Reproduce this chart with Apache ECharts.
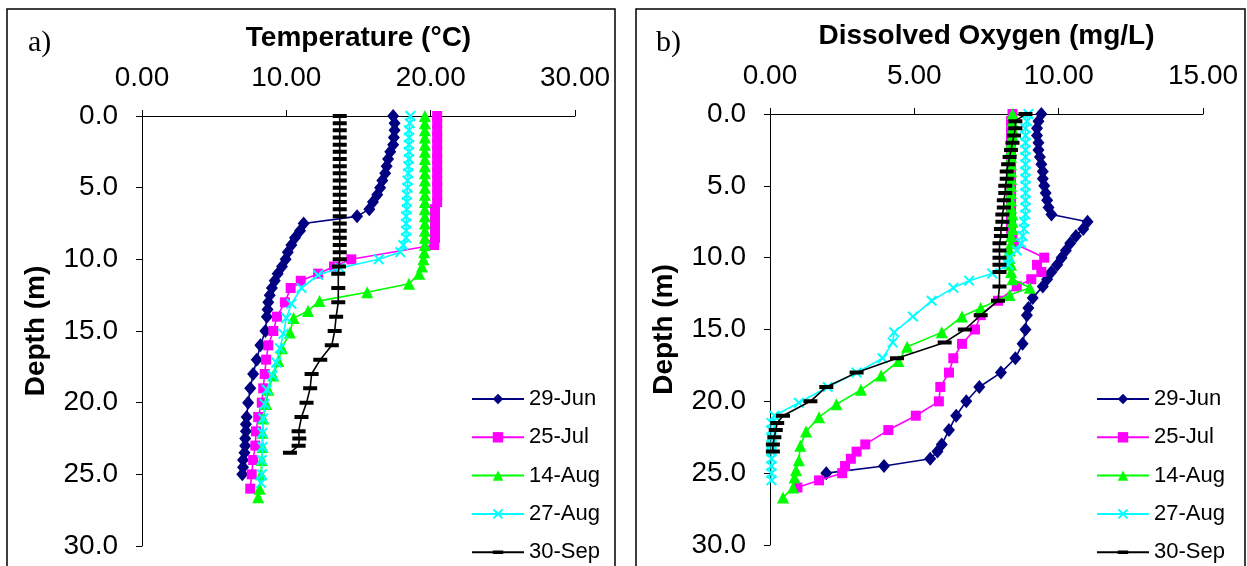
<!DOCTYPE html>
<html><head><meta charset="utf-8">
<script src="https://cdn.jsdelivr.net/npm/echarts@6/dist/echarts.min.js"></script>
<style>html,body{margin:0;padding:0;background:#fff}#c{width:1247px;height:566px}</style>
</head><body><div id="c"></div><script>
// ---------- data ----------
const seriesNames = ['29-Jun', '25-Jul', '14-Aug', '27-Aug', '30-Sep'];
const tempTicks = [0, 10, 20, 30];
const doTicks = [0, 5, 10, 15];
const depthTicks = [0, 5, 10, 15, 20, 25, 30];

// Temperature (°C), depth (m)
const tempJun = [[17.4,0],[17.5,0.5],[17.5,1],[17.45,1.5],[17.4,2],[17.2,2.5],[17.05,3],[16.95,3.5],[16.85,4],[16.65,4.5],[16.5,5],[16.3,5.5],[16.0,6],[15.75,6.5],[14.9,7],[11.2,7.5],[10.95,8],[10.6,8.5],[10.35,9],[10.1,9.5],[9.95,10],[9.7,10.5],[9.4,11],[9.2,11.5],[9.0,12],[8.85,12.5],[8.75,13],[8.7,13.5],[8.65,14],[8.55,15],[8.2,16],[7.95,17],[7.7,18],[7.5,19],[7.35,20],[7.25,21],[7.2,21.5],[7.2,22],[7.15,22.5],[7.15,23],[7.1,23.5],[7.0,24],[7.0,24.5],[6.95,25]];
const tempJul = [[20.45,0],[20.45,0.5],[20.45,1],[20.45,1.5],[20.45,2],[20.45,2.5],[20.45,3],[20.45,3.5],[20.45,4],[20.45,4.5],[20.45,5],[20.45,5.5],[20.45,6],[20.3,6.5],[20.3,7],[20.3,7.5],[20.3,8],[20.3,8.5],[20.25,9],[14.5,10],[13.3,10.5],[12.2,11],[11.0,11.5],[10.3,12],[9.9,13],[9.35,14],[9.1,15],[8.75,16],[8.6,17],[8.5,18],[8.4,19],[8.3,20],[8.05,21],[7.9,22],[7.85,23],[7.7,24],[7.6,25],[7.5,26]];
const tempAug14 = [[19.6,0],[19.6,0.5],[19.6,1],[19.6,1.5],[19.6,2],[19.6,2.5],[19.6,3],[19.6,3.5],[19.6,4],[19.6,4.5],[19.6,5],[19.6,5.5],[19.6,6],[19.6,6.5],[19.6,7],[19.6,7.5],[19.6,8],[19.6,8.5],[19.6,9],[19.55,9.5],[19.5,10],[19.4,10.5],[19.2,11],[18.5,11.7],[15.6,12.3],[12.3,12.9],[11.5,13.6],[10.5,14.1],[10.25,15.1],[9.7,16.2],[9.45,17.1],[9.1,18.1],[8.75,19.1],[8.6,20.1],[8.4,21.1],[8.35,22.1],[8.35,23.1],[8.3,24],[8.25,25],[8.15,26],[8.05,26.6]];
const tempAug27 = [[18.6,0],[18.55,0.5],[18.5,1],[18.5,1.5],[18.5,2],[18.5,2.5],[18.5,3],[18.45,3.5],[18.45,4],[18.4,4.5],[18.4,5],[18.35,5.5],[18.35,6],[18.35,6.5],[18.3,7],[18.3,7.5],[18.3,8],[18.3,8.5],[18.1,9],[17.9,9.5],[16.4,10],[13.7,10.6],[12.2,11.1],[11.05,12],[10.35,13.1],[10.0,14.1],[9.8,15.2],[9.55,16.2],[9.3,17.2],[9.05,18.1],[8.65,19.1],[8.5,20.1],[8.4,21.1],[8.35,22.1],[8.35,23.1],[8.3,24],[8.3,25],[8.25,25.6]];
const tempSep = [[13.7,0],[13.7,0.5],[13.7,1],[13.7,1.5],[13.7,2],[13.7,2.5],[13.7,3],[13.7,3.5],[13.7,4],[13.7,4.5],[13.7,5],[13.7,5.5],[13.7,6],[13.7,6.5],[13.7,7],[13.7,7.5],[13.7,8],[13.7,8.5],[13.7,9],[13.7,9.5],[13.7,10],[13.65,10.5],[13.6,11],[13.6,12],[13.6,13],[13.45,14],[13.35,15],[13.15,16],[12.35,17],[11.75,18],[11.65,19],[11.4,20],[11.05,21],[10.85,22],[10.9,22.5],[10.85,23],[10.25,23.5]];

// Dissolved oxygen (mg/L), depth (m)
const doJun = [[9.4,0],[9.3,0.5],[9.25,1],[9.25,1.5],[9.3,2],[9.3,2.5],[9.35,3],[9.4,3.5],[9.45,4],[9.45,4.5],[9.5,5],[9.55,5.5],[9.6,6],[9.65,6.5],[9.75,7],[11.0,7.5],[10.85,8],[10.6,8.5],[10.4,9],[10.25,9.5],[10.1,10],[9.95,10.5],[9.75,11],[9.6,11.5],[9.45,12],[9.1,12.8],[8.95,13.5],[8.9,14],[8.85,15],[8.75,16],[8.5,17],[8.0,18],[7.25,19],[6.8,20],[6.45,21],[6.2,22],[5.95,23],[5.8,23.5],[5.55,24],[3.95,24.5],[1.95,25]];
const doJul = [[8.4,0],[8.35,0.5],[8.35,1],[8.35,1.5],[8.35,2],[8.35,2.5],[8.35,3],[8.35,3.5],[8.35,4],[8.35,4.5],[8.35,5],[8.35,5.5],[8.35,6],[8.35,6.5],[8.35,7],[8.35,7.5],[8.35,8],[8.4,8.5],[8.45,9],[9.5,10],[9.25,10.5],[9.4,11],[9.05,11.5],[8.55,12],[7.9,13],[7.3,14],[7.1,15],[6.65,16],[6.35,17],[6.2,18],[5.9,19],[5.85,20],[5.05,21],[4.1,22],[3.3,23],[3.0,23.5],[2.8,24],[2.6,24.5],[2.5,25],[1.7,25.5],[0.95,26]];
const doAug14 = [[8.4,0],[8.4,0.5],[8.4,1],[8.4,1.5],[8.35,2],[8.35,2.5],[8.35,3],[8.35,3.5],[8.35,4],[8.35,4.5],[8.35,5],[8.35,5.5],[8.35,6],[8.35,6.5],[8.4,7],[8.4,7.5],[8.4,8],[8.35,8.5],[8.35,9],[8.3,9.5],[8.3,10],[8.35,10.5],[8.35,11],[8.4,11.5],[9.0,12.1],[8.3,12.6],[7.3,13.5],[6.65,14.1],[5.95,15.2],[4.75,16.2],[4.45,17.2],[3.85,18.2],[3.15,19.2],[2.3,20.2],[1.7,21.1],[1.25,22.1],[1.05,23.1],[1.0,24.1],[0.9,24.8],[0.85,25.3],[0.8,26.0],[0.45,26.7]];
const doAug27 = [[8.95,0],[8.9,0.5],[8.85,1],[8.85,1.5],[8.85,2],[8.85,2.5],[8.85,3],[8.85,3.5],[8.85,4],[8.85,4.5],[8.85,5],[8.85,5.5],[8.85,6],[8.85,6.5],[8.85,7],[8.8,7.5],[8.8,8],[8.75,8.5],[8.7,9],[8.55,9.5],[8.3,10],[8.25,10.5],[7.7,11.1],[6.9,11.6],[6.35,12.1],[5.6,13.0],[4.95,14.1],[4.3,15.2],[4.25,15.9],[3.9,17.0],[3.0,18.0],[2.0,19.0],[1.0,20.1],[0.15,21.0],[0.05,21.5],[0.05,22],[0.05,22.5],[0.05,23],[0.05,23.5],[0.05,24],[0.05,24.5],[0.05,25],[0.05,25.5]];
const doSep = [[8.85,0],[8.5,0.5],[8.5,1],[8.45,1.5],[8.4,2],[8.35,2.5],[8.3,3],[8.25,3.5],[8.2,4],[8.2,4.5],[8.15,5],[8.15,5.5],[8.1,6],[8.1,6.5],[8.05,7],[8.05,7.5],[8.0,8],[8.0,8.5],[7.95,9],[7.95,9.5],[7.95,10],[7.95,10.5],[7.95,11],[7.95,12],[7.9,13],[7.3,14],[6.75,15],[6.05,15.9],[4.4,17],[3.0,18],[1.95,19],[1.4,20],[0.45,21],[0.25,21.5],[0.2,22],[0.15,22.5],[0.1,23],[0.1,23.5]];

// ---------- styling ----------
const FONT = 'Liberation Sans, Arial, sans-serif';
const colors = ['#000080', '#FF00FF', '#00FF00', '#00FFFF', '#000000'];
const xPath = 'path://M0,1.3L1.3,0L5,3.7L8.7,0L10,1.3L6.3,5L10,8.7L8.7,10L5,6.3L1.3,10L0,8.7L3.7,5Z';
// horizontal dash inside a 14x12 box (tiny corner specks fix the bounding box)
const dashPath = 'path://M0,0L0.05,0L0,0.05Z M0,4L14,4L14,8L0,8Z M14,12L13.95,12L14,11.95Z';
const symbols = ['diamond', 'rect', 'triangle', xPath, dashPath];
const symbolSizes = [[12, 14], 10, 12, 11, [14, 12]];
const tempData = [tempJun, tempJul, tempAug14, tempAug27, tempSep];
const doData = [doJun, doJul, doAug14, doAug27, doSep];

function xAx(grid, ticks, name, fmt) {
  return {
    gridIndex: grid, type: 'value', position: 'top',
    min: ticks[0], max: ticks[ticks.length - 1], interval: ticks[1] - ticks[0],
    name: name, nameLocation: 'middle', nameGap: 64,
    nameTextStyle: { fontFamily: FONT, fontWeight: 'bold', fontSize: 28, color: '#000' },
    axisLine: { show: true, onZero: false, lineStyle: { color: '#000', width: 1 } },
    axisTick: { show: true, inside: false, length: 6, lineStyle: { color: '#000' } },
    axisLabel: { fontFamily: FONT, fontSize: 28, color: '#000', margin: 24,
      formatter: v => v.toFixed(fmt) },
    splitLine: { show: false }
  };
}
function yAx(grid) {
  return {
    gridIndex: grid, type: 'value', inverse: true,
    min: depthTicks[0], max: depthTicks[depthTicks.length - 1], interval: depthTicks[1] - depthTicks[0],
    name: 'Depth (m)', nameLocation: 'middle', nameGap: 92,
    nameTextStyle: { fontFamily: FONT, fontWeight: 'bold', fontSize: 28, color: '#000' },
    axisLine: { show: true, onZero: false, lineStyle: { color: '#000', width: 1 } },
    axisTick: { show: true, inside: false, length: 6, lineStyle: { color: '#000' } },
    axisLabel: { fontFamily: FONT, fontSize: 28, color: '#000', margin: 24,
      formatter: v => v.toFixed(1) },
    splitLine: { show: false }
  };
}

const series = [];
[tempData, doData].forEach((set, g) => {
  set.forEach((d, i) => {
    series.push({
      name: seriesNames[i], type: 'line', xAxisIndex: g, yAxisIndex: g,
      data: d, symbol: symbols[i], symbolSize: symbolSizes[i], showSymbol: true,
      lineStyle: { color: colors[i], width: 1.6 },
      itemStyle: { color: colors[i] },
      clip: false, animation: false, z: 2 + i
    });
  });
});

function legend(left) {
  return {
    left: left, top: 387, height: 200, padding: 0, orient: 'vertical',
    itemWidth: 52, itemHeight: 13, itemGap: 14.3,
    textStyle: { fontFamily: FONT, fontSize: 22, color: '#000', lineHeight: 24 },
    data: seriesNames, selectedMode: false
  };
}

const chart = echarts.init(document.getElementById('c'), null, { renderer: 'canvas' });
chart.setOption({
  backgroundColor: '#fff',
  animation: false,
  grid: [
    { left: 142, top: 116, width: 433, height: 430 },
    { left: 770, top: 114, width: 433, height: 431 }
  ],
  xAxis: [xAx(0, tempTicks, 'Temperature (°C)', 2), xAx(1, doTicks, 'Dissolved Oxygen (mg/L)', 2)],
  yAxis: [yAx(0), yAx(1)],
  legend: [legend(471), legend(1096)],
  graphic: [
    { type: 'rect', shape: { x: 7, y: 9, width: 608, height: 620 }, style: { fill: null, stroke: '#000', lineWidth: 1.5 }, silent: true },
    { type: 'rect', shape: { x: 636, y: 9, width: 609, height: 620 }, style: { fill: null, stroke: '#000', lineWidth: 1.5 }, silent: true },
    { type: 'text', left: 28, top: 28, style: { text: 'a)', font: '30px Liberation Serif', fill: '#000' } },
    { type: 'text', left: 656, top: 28, style: { text: 'b)', font: '30px Liberation Serif', fill: '#000' } }
  ],
  series: series
});
</script></body></html>
